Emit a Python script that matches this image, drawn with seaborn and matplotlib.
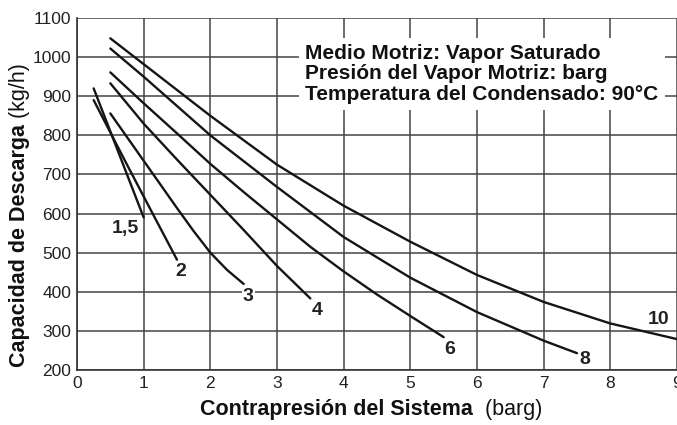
import seaborn as sns
import pandas as pd
import matplotlib.pyplot as plt

# curves: x = back pressure (barg), y = discharge capacity (kg/h)
curva_labels = ["1,5", "2", "3", "4", "6", "8", "10"]

x_15 = [0.25, 1.0]
y_15 = [920, 590]

x_2 = [0.25, 0.75, 1.15, 1.5]
y_2 = [890, 725, 595, 482]

x_3 = [0.5, 1.0, 1.5, 1.75, 2.0, 2.25, 2.5]
y_3 = [856, 735, 614, 555, 500, 456, 420]

x_4 = [0.5, 1.0, 1.5, 2.0, 2.5, 3.0, 3.5]
y_4 = [933, 830, 738, 648, 558, 466, 383]

x_6 = [0.5, 1.0, 1.5, 2.0, 2.5, 3.0, 3.5, 4.0, 4.5, 5.0, 5.5]
y_6 = [961, 882, 805, 727, 655, 585, 515, 452, 393, 338, 284]

x_8 = [0.5, 1.0, 2.0, 3.0, 4.0, 5.0, 6.0, 7.0, 7.5]
y_8 = [1022, 950, 800, 668, 540, 436, 348, 275, 243]

x_10 = [0.5, 1.0, 2.0, 3.0, 4.0, 5.0, 6.0, 7.0, 8.0, 9.0]
y_10 = [1048, 982, 850, 725, 620, 528, 443, 374, 319, 279]

# where the curve names sit
label_x = [0.72, 1.55, 2.57, 3.6, 5.59, 7.62, 8.72]
label_y = [563, 451, 387, 353, 253, 227, 328]

x_ticks = [0, 1, 2, 3, 4, 5, 6, 7, 8, 9]
y_ticks = [200, 300, 400, 500, 600, 700, 800, 900, 1000, 1100]

nota = ["Medio Motriz: Vapor Saturado",
        "Presión del Vapor Motriz: barg",
        "Temperatura del Condensado: 90°C"]

xs = [x_15, x_2, x_3, x_4, x_6, x_8, x_10]
ys = [y_15, y_2, y_3, y_4, y_6, y_8, y_10]
rows = []
for name, cx, cy in zip(curva_labels, xs, ys):
    for a, b in zip(cx, cy):
        rows.append({"curva": name, "x": a, "y": b})
df = pd.DataFrame(rows)

sns.set_theme(style="white")
plt.rcParams["font.family"] = ["Liberation Sans", "DejaVu Sans"]

fig = plt.figure(figsize=(6.77, 4.25), dpi=100)
ax = fig.add_axes([77 / 677, 1 - 370 / 425, 600 / 677, 352 / 425])

sns.lineplot(data=df, x="x", y="y", hue="curva", palette=["#151515"] * 7,
             legend=False, sort=False, estimator=None, linewidth=1.7, ax=ax, zorder=3)

ax.set_xlim(0, 9)
ax.set_ylim(200, 1100)
ax.set_xticks(x_ticks)
ax.set_yticks(y_ticks)
ax.set_xticklabels([str(t) for t in x_ticks], fontsize=12.5, color="#222")
ax.set_yticklabels([str(t) for t in y_ticks], fontsize=12.5, color="#222")
ax.tick_params(length=0, pad=4)
ax.grid(True, color="#444", linewidth=1.1)
ax.set_axisbelow(True)
for s in ["left", "bottom"]:
    ax.spines[s].set_color("#333")
    ax.spines[s].set_linewidth(1.2)
for s in ["top", "right"]:
    ax.spines[s].set_visible(False)
ax.set_xlabel("")
ax.set_ylabel("")

for lab, lx, ly in zip(curva_labels, label_x, label_y):
    bb = dict(facecolor="white", edgecolor="none", pad=1) if lab == "3" else None
    ax.text(lx, ly, lab, fontsize=14, fontweight="bold", ha="center", va="center",
            color="#222", bbox=bb, zorder=4)

ax.text(3.42, 1034, "\n".join(nota), fontsize=15, fontweight="bold", ha="left", va="top",
        linespacing=1.1, color="#111", zorder=5,
        bbox=dict(facecolor="white", edgecolor="none", boxstyle="square,pad=0.3"))

# axis titles: bold part + regular units
xl = fig.text(200 / 677, 1 - 410 / 425, "Contrapresión del Sistema", fontsize=15.5,
              fontweight="bold", ha="left", va="center", color="#111")
ax.annotate("  (barg)", xy=(1, 0.5), xycoords=xl, fontsize=15.5, ha="left", va="center",
            color="#111", annotation_clip=False)

yl = fig.text(20 / 677, 1 - 367 / 425, "Capacidad de Descarga", fontsize=15.5,
              fontweight="bold", rotation=90, ha="center", va="bottom", color="#111")
ax.annotate(" (kg/h)", xy=(0.5, 1), xycoords=yl, fontsize=15.5, rotation=90,
            ha="center", va="bottom", color="#111", annotation_clip=False)

fig.savefig("out.png", dpi=100)
